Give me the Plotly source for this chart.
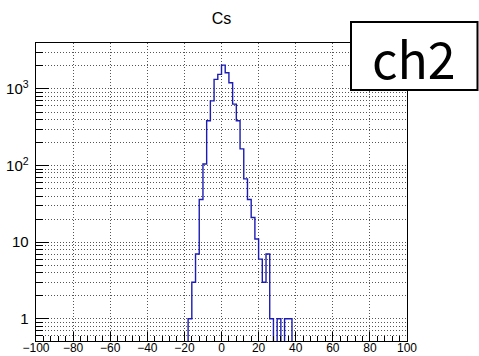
import plotly.graph_objects as go

# Histogram "Cs" (ch2): bins of width 2 from -20 to 40
bin_left_edges = [-20, -18, -16, -14, -12, -10, -8, -6, -4, -2,
                  0, 2, 4, 6, 8, 10, 12, 14, 16, 18,
                  20, 22, 24, 26, 28, 30, 32, 34, 36, 38]
bin_width = 2
counts = [0, 1, 3, 7, 36, 105, 384, 699, 1336, 1550,
          2050, 1627, 1206, 634, 384, 165, 67, 36, 21, 11,
          6, 3, 7, 1, 0, 1, 0, 1, 1, 0]

x_tick_vals = [-100, -80, -60, -40, -20, 0, 20, 40, 60, 80, 100]
title_text = "Cs"
label_text = "ch2"

# empty bins drawn at a floor below the visible log range (clipped)
floor = 0.01
xs = list(bin_left_edges) + [bin_left_edges[-1] + bin_width]
ys = [c if c > 0 else floor for c in counts]
ys = ys + [ys[-1]]

fig = go.Figure()
fig.add_trace(go.Scatter(
    x=xs, y=ys, mode="lines", line=dict(shape="hv", color="#1c1cb4", width=1.4),
    showlegend=False, hoverinfo="skip"))

grid_col = "#555555"
grid_dash = "1px,2px"
axis_font = dict(family="Liberation Sans, Arial, sans-serif", size=12, color="black")

fig.update_layout(
    width=479, height=356,
    margin=dict(l=36, r=72, t=43, b=15, autoexpand=False),
    paper_bgcolor="white", plot_bgcolor="white",
    title=dict(text=title_text, x=0.5, xref="paper", xanchor="center",
               y=1 - 18 / 356, yref="container", yanchor="middle",
               font=dict(family="Liberation Sans, Arial, sans-serif", size=16, color="black")),
    xaxis=dict(
        range=[-100, 100], tickmode="array", tickvals=x_tick_vals,
        ticks="inside", ticklen=9, tickcolor="black", tickwidth=1,
        showline=True, linecolor="black", linewidth=1, mirror=True,
        showgrid=True, gridcolor=grid_col, griddash=grid_dash, gridwidth=1,
        zeroline=False, tickfont=axis_font, automargin=False, ticklabelstandoff=-4,
        minor=dict(dtick=4, tick0=0, ticks="inside", ticklen=5, tickcolor="black", showgrid=False),
    ),
    yaxis=dict(
        type="log", range=[-0.29, 3.60], dtick=1, exponentformat="power",
        ticks="inside", ticklen=13, tickcolor="black", tickwidth=1,
        showline=True, linecolor="black", linewidth=1, mirror=True,
        showgrid=True, gridcolor=grid_col, griddash=grid_dash, gridwidth=1,
        zeroline=False, tickfont=axis_font, automargin=False, ticklabelstandoff=4,
        minor=dict(dtick="D1", ticks="inside", ticklen=7, tickcolor="black",
                   showgrid=True, gridcolor=grid_col, griddash=grid_dash, gridwidth=1),
    ),
)

# label box "ch2" (pixel positions converted to paper coords)
def px_x(p):
    return (p - 36) / (479 - 72 - 36)

def px_y(p):
    return (356 - 15 - p) / (356 - 15 - 43)

fig.add_shape(type="rect", xref="paper", yref="paper",
              x0=px_x(351), x1=px_x(477.5), y0=px_y(90), y1=px_y(22),
              fillcolor="white", line=dict(color="black", width=2), layer="above")
fig.add_annotation(text=label_text, xref="paper", yref="paper",
                   x=px_x(414), y=px_y(57), xanchor="center", yanchor="middle",
                   showarrow=False,
                   font=dict(family="Noto Sans CJK JP, Noto Sans, sans-serif", size=50, color="black"))

fig.write_html("out.html", config={"displayModeBar": False},
               post_script="document.body.style.margin='0';document.body.style.overflow='hidden';")
